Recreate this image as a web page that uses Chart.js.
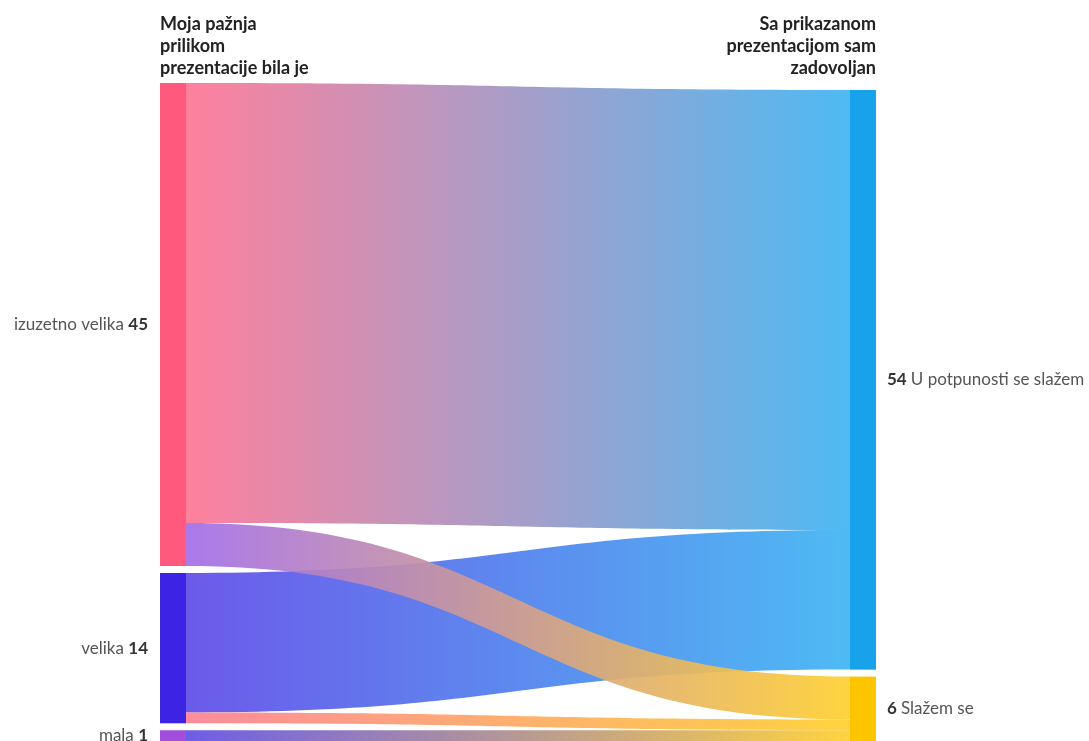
<!DOCTYPE html>
<html>
<head>
<meta charset="utf-8">
<script src="https://cdn.jsdelivr.net/npm/chart.js@4/dist/chart.umd.min.js"></script>
<style>
html,body{margin:0;padding:0;background:#fff;}
#wrap{width:1089px;height:741px;position:relative;}
</style>
</head>
<body>
<div id="wrap"><canvas id="c"></canvas></div>
<script>
// ---- data ----
const leftTitle = ['Moja pažnja', 'prilikom', 'prezentacije bila je'];
const rightTitle = ['Sa prikazanom', 'prezentacijom sam', 'zadovoljan'];
const leftNodes = ['izuzetno velika', 'velika', 'mala'];
const leftValues = [45, 14, 1];
const rightNodes = ['U potpunosti se slažem', 'Slažem se'];
const rightValues = [54, 6];
const linkSource = [0, 1, 0, 1, 2];
const linkTarget = [0, 0, 1, 1, 1];
const linkValues = [41, 13, 4, 1, 1];

// ---- styles ----
const leftNodeColors = ['#ff5a7e', '#3d24e4', '#a14fdc'];
const rightNodeColors = ['#18a2ea', '#fdc400'];
const linkFrom = ['#ff7695', '#5f4ce8', '#a46ee9', '#ff8294', '#6250e6'];
const linkTo = ['#3fb5f3', '#3fb5f3', '#ffd030', '#ffd030', '#ffd030'];
const GAP = 0.65;
const NODE_W = 26;
const FONT = 'Lato, "Source Sans Pro", "Noto Sans", sans-serif';

const total = leftValues.reduce((a, b) => a + b, 0);
const yMax = total + GAP * (leftValues.length - 1);

function layoutColumn(values, offset) {
  const out = [];
  let y = offset;
  values.forEach(v => { out.push({ start: y, end: y + v }); y += v + GAP; });
  return out;
}

const sankeyPlugin = {
  id: 'sankey',
  afterDatasetsDraw(chart) {
    const ctx = chart.ctx;
    const xs = chart.scales.x, ys = chart.scales.y;
    const left = layoutColumn(leftValues, 0);
    const rightTotal = rightValues.reduce((a, b) => a + b, 0) + GAP * (rightValues.length - 1);
    const right = layoutColumn(rightValues, yMax - rightTotal);
    const xL0 = xs.getPixelForValue(0), xR1 = xs.getPixelForValue(1);
    const xL1 = xL0 + NODE_W, xR0 = xR1 - NODE_W;

    const srcOff = left.map(n => n.start);
    const tgtOff = right.map(n => n.start);
    const order = linkValues.map((v, i) => i);
    const srcPos = {}, tgtPos = {};
    [...order].sort((a, b) => linkSource[a] - linkSource[b] || linkTarget[a] - linkTarget[b]).forEach(i => {
      srcPos[i] = srcOff[linkSource[i]]; srcOff[linkSource[i]] += linkValues[i];
    });
    [...order].sort((a, b) => linkTarget[a] - linkTarget[b] || linkSource[a] - linkSource[b]).forEach(i => {
      tgtPos[i] = tgtOff[linkTarget[i]]; tgtOff[linkTarget[i]] += linkValues[i];
    });

    ctx.save();
    order.forEach(i => {
      const s0 = ys.getPixelForValue(srcPos[i]);
      const s1 = ys.getPixelForValue(srcPos[i] + linkValues[i]);
      const t0 = ys.getPixelForValue(tgtPos[i]);
      const t1 = ys.getPixelForValue(tgtPos[i] + linkValues[i]);
      const xm = (xL1 + xR0) / 2;
      const g = ctx.createLinearGradient(xL1, 0, xR0, 0);
      g.addColorStop(0, linkFrom[i]);
      g.addColorStop(1, linkTo[i]);
      ctx.globalAlpha = 0.92;
      ctx.fillStyle = g;
      ctx.beginPath();
      ctx.moveTo(xL1, s0);
      ctx.bezierCurveTo(xm, s0, xm, t0, xR0, t0);
      ctx.lineTo(xR0, t1);
      ctx.bezierCurveTo(xm, t1, xm, s1, xL1, s1);
      ctx.closePath();
      ctx.fill();
    });
    ctx.globalAlpha = 1;

    left.forEach((n, i) => {
      const a = ys.getPixelForValue(n.start), b = ys.getPixelForValue(n.end);
      ctx.fillStyle = leftNodeColors[i];
      ctx.fillRect(xL0, a, NODE_W, b - a);
    });
    right.forEach((n, i) => {
      const a = ys.getPixelForValue(n.start), b = ys.getPixelForValue(n.end);
      ctx.fillStyle = rightNodeColors[i];
      ctx.fillRect(xR0, a, NODE_W, b - a);
    });

    ctx.textBaseline = 'middle';
    left.forEach((n, i) => {
      const yc = ys.getPixelForValue((n.start + n.end) / 2);
      const num = String(leftValues[i]);
      ctx.font = 'bold 17px ' + FONT;
      const wn = ctx.measureText(num).width;
      ctx.textAlign = 'right';
      ctx.fillStyle = '#333';
      ctx.fillText(num, xL0 - 12, yc);
      ctx.font = '17px ' + FONT;
      ctx.fillStyle = '#555';
      ctx.fillText(leftNodes[i] + ' ', xL0 - 12 - wn, yc);
    });
    right.forEach((n, i) => {
      const yc = ys.getPixelForValue((n.start + n.end) / 2);
      const num = String(rightValues[i]);
      ctx.textAlign = 'left';
      ctx.font = 'bold 17px ' + FONT;
      ctx.fillStyle = '#333';
      ctx.fillText(num, xR1 + 11, yc);
      const wn = ctx.measureText(num + ' ').width;
      ctx.font = '17px ' + FONT;
      ctx.fillStyle = '#555';
      ctx.fillText(rightNodes[i], xR1 + 11 + wn, yc);
    });

    ctx.font = 'bold 18px ' + FONT;
    ctx.fillStyle = '#222';
    ctx.textAlign = 'left';
    leftTitle.forEach((t, k) => ctx.fillText(t, xL0, 24 + k * 22));
    ctx.textAlign = 'right';
    rightTitle.forEach((t, k) => ctx.fillText(t, xR1, 24 + k * 22));
    ctx.restore();
  }
};

new Chart(document.getElementById('c'), {
  type: 'scatter',
  data: { datasets: [{ data: [] }] },
  options: {
    responsive: true,
    maintainAspectRatio: false,
    animation: false,
    layout: { padding: { left: 160, right: 213, top: 83, bottom: 0 } },
    scales: {
      x: { type: 'linear', min: 0, max: 1, display: false },
      y: { type: 'linear', min: 0, max: yMax, reverse: true, display: false }
    },
    plugins: { legend: { display: false }, tooltip: { enabled: false } },
    events: []
  },
  plugins: [sankeyPlugin]
});
</script>
</body>
</html>
